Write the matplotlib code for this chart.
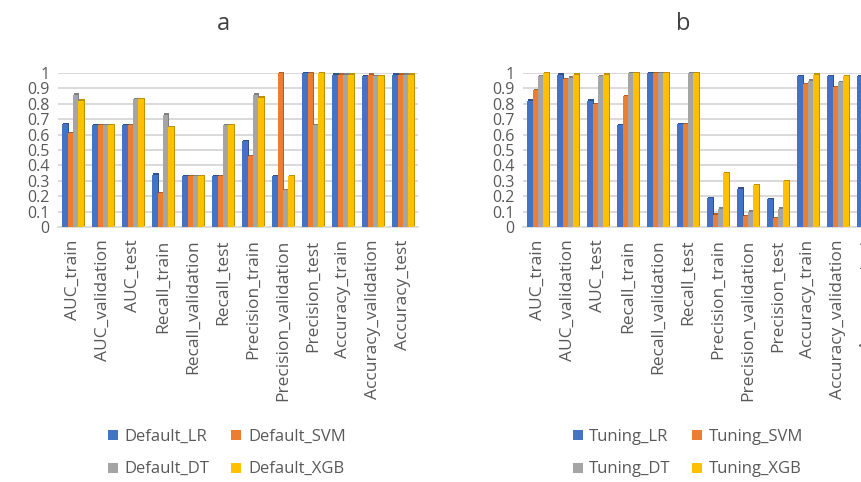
import matplotlib
matplotlib.use("Agg")
import matplotlib.pyplot as plt
from matplotlib.lines import Line2D
import numpy as np

plt.rcParams['font.family'] = ['Open Sans', 'DejaVu Sans']

categories = ["AUC_train", "AUC_validation", "AUC_test", "Recall_train",
              "Recall_validation", "Recall_test", "Precision_train",
              "Precision_validation", "Precision_test", "Accuracy_train",
              "Accuracy_validation", "Accuracy_test"]

default_lr = [0.67, 0.66, 0.66, 0.34, 0.33, 0.33, 0.56, 0.33, 1.00, 0.99, 0.98, 0.99]
default_svm = [0.61, 0.66, 0.66, 0.22, 0.33, 0.33, 0.46, 1.00, 1.00, 0.99, 0.99, 0.99]
default_dt = [0.86, 0.66, 0.83, 0.73, 0.33, 0.66, 0.86, 0.24, 0.66, 0.99, 0.98, 0.99]
default_xgb = [0.82, 0.66, 0.83, 0.65, 0.33, 0.66, 0.84, 0.33, 1.00, 0.99, 0.98, 0.99]

tuning_lr = [0.82, 0.99, 0.82, 0.66, 1.00, 0.67, 0.19, 0.25, 0.18, 0.98, 0.98, 0.98]
tuning_svm = [0.89, 0.96, 0.80, 0.85, 1.00, 0.67, 0.08, 0.07, 0.06, 0.93, 0.91, 0.93]
tuning_dt = [0.98, 0.97, 0.98, 1.00, 1.00, 1.00, 0.12, 0.10, 0.12, 0.95, 0.94, 0.95]
tuning_xgb = [1.00, 0.99, 0.99, 1.00, 1.00, 1.00, 0.35, 0.27, 0.30, 0.99, 0.98, 0.98]

default_names = ["Default_LR", "Default_SVM", "Default_DT", "Default_XGB"]
tuning_names = ["Tuning_LR", "Tuning_SVM", "Tuning_DT", "Tuning_XGB"]

colors = ["#4472C4", "#ED7D31", "#A5A5A5", "#FFC000"]
dark = ["#2F528F", "#B85F1F", "#7F7F7F", "#BF9000"]
text_col = "#595959"

W, H = 861, 482
fig = plt.figure(figsize=(W / 100, H / 100), dpi=100)

def px_axes(left, top, right, bottom):
    return fig.add_axes([left / W, 1 - bottom / H, (right - left) / W, (bottom - top) / H])

def draw(ax, series):
    x = np.arange(len(categories))
    bw = 0.18
    offs = [-0.27, -0.09, 0.09, 0.27]
    for i, vals in enumerate(series):
        v = np.array(vals)
        ax.bar(x + offs[i] + 0.035, v + 0.008, width=bw, color=dark[i],
               zorder=2, clip_on=False, linewidth=0)
        ax.bar(x + offs[i], v, width=bw, color=colors[i], zorder=3,
               clip_on=False, linewidth=0)
    ax.set_xlim(-0.5, len(categories) - 0.5)
    ax.set_ylim(0, 1)
    ax.set_yticks(np.arange(0, 1.01, 0.1))
    ax.set_yticklabels(["0", "0.1", "0.2", "0.3", "0.4", "0.5", "0.6",
                        "0.7", "0.8", "0.9", "1"])
    ax.set_xticks(x)
    ax.set_xticklabels(categories, rotation=90)
    ax.tick_params(axis='y', length=0, labelsize=11.5, labelcolor=text_col, pad=6)
    ax.tick_params(axis='x', length=0, labelsize=12.5, labelcolor=text_col, pad=9)
    ax.grid(axis='y', color="#D9D9D9", linewidth=1.4, zorder=0)
    ax.set_axisbelow(True)
    for s in ["top", "right", "left"]:
        ax.spines[s].set_visible(False)
    ax.spines["bottom"].set_color("#D9D9D9")
    ax.spines["bottom"].set_linewidth(1.2)

ax_a = px_axes(58, 73, 418, 227)
draw(ax_a, [default_lr, default_svm, default_dt, default_xgb])
ax_b = px_axes(523, 73, 883, 227)
draw(ax_b, [tuning_lr, tuning_svm, tuning_dt, tuning_xgb])

fig.text(223 / W, 1 - 24 / H, "a", fontsize=17, color="#404040", ha="center", va="center")
fig.text(683 / W, 1 - 24 / H, "b", fontsize=17, color="#404040", ha="center", va="center")

def legend(names, cx):
    handles = [Line2D([], [], marker='s', linestyle='none', markersize=7,
                      markerfacecolor=c, markeredgewidth=0) for c in colors]
    order = [0, 2, 1, 3]
    fig.legend([handles[k] for k in order], [names[k] for k in order],
               loc='center', bbox_to_anchor=(cx / W, 1 - 453 / H),
               ncol=2, frameon=False, fontsize=12, labelcolor=text_col,
               handlelength=0.6, handletextpad=0.4, columnspacing=1.3,
               labelspacing=1.0)

legend(default_names, 227)
legend(tuning_names, 688)

fig.savefig("out.png", dpi=100)
